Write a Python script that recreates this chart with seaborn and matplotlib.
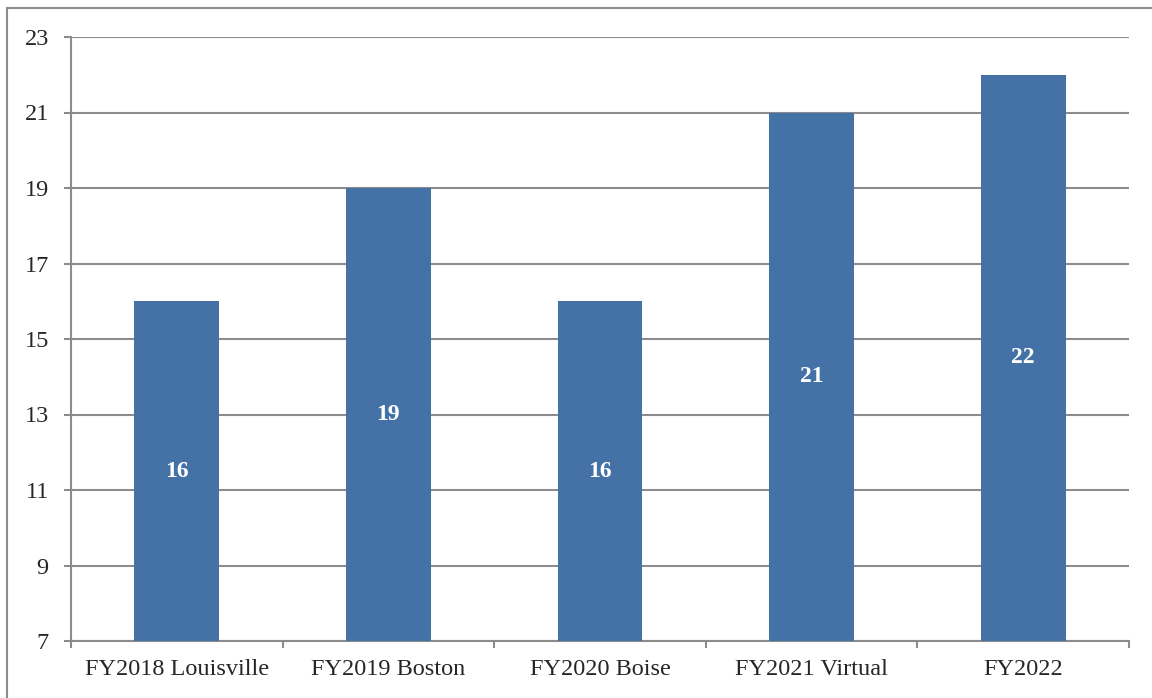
import pandas as pd
import seaborn as sns
import matplotlib.pyplot as plt
from matplotlib.patches import Rectangle

categories = ['FY2018 Louisville', 'FY2019 Boston', 'FY2020 Boise', 'FY2021 Virtual', 'FY2022']
counts = [16, 19, 16, 21, 22]
yticks = [7, 9, 11, 13, 15, 17, 19, 21, 23]

df = pd.DataFrame({'event': categories, 'count': counts})

sns.set_style('white')
plt.rcParams['font.family'] = ['Liberation Serif', 'DejaVu Serif']

fig = plt.figure(figsize=(11.52, 6.98), dpi=100)
ax = fig.add_axes([71/1152, 1-641/698, (1129-71)/1152, (641-37)/698])

grid_col = '#8c8c8c'
bar_col = '#4472a7'

sns.barplot(data=df, x='event', y='count', color=bar_col, width=0.4,
            saturation=1, linewidth=0, ax=ax, zorder=3)

ax.set_ylim(yticks[0], yticks[-1])
ax.set_xlim(-0.5, len(categories) - 0.5)
ax.set_yticks(yticks)
ax.yaxis.grid(True, color=grid_col, linewidth=1.5, zorder=0)
ax.set_axisbelow(True)

# category labels at centers, tick marks at boundaries
ax.set_xticks([i - 0.5 for i in range(len(categories) + 1)])
ax.set_xticklabels([])
ax.set_xticks(range(len(categories)), minor=True)
ax.set_xticklabels(categories, minor=True)
ax.tick_params(axis='x', which='major', bottom=True, length=5, width=1.5,
               color=grid_col, direction='out')
ax.tick_params(axis='x', which='minor', bottom=False, length=0, pad=13, labelsize=17.5)
ax.tick_params(axis='y', left=True, length=5, width=1.5, color=grid_col,
               direction='out', labelsize=17.5, pad=11)
ax.set_xlabel('')
ax.set_ylabel('')

for side in ['top', 'right']:
    ax.spines[side].set_visible(False)
for side in ['left', 'bottom']:
    ax.spines[side].set_color(grid_col)
    ax.spines[side].set_linewidth(1.5)

for i, v in enumerate(counts):
    ax.text(i, (yticks[0] + v) / 2, str(v), ha='center', va='center',
            color='white', fontsize=17, fontweight='bold', zorder=5)

fig.patches.append(Rectangle((7/1152, -0.05), 1.2, 1 - 8/698 + 0.05,
                             transform=fig.transFigure, fill=False,
                             edgecolor='#8c8c8c', linewidth=1.5))

fig.savefig('out.png', dpi=100)
